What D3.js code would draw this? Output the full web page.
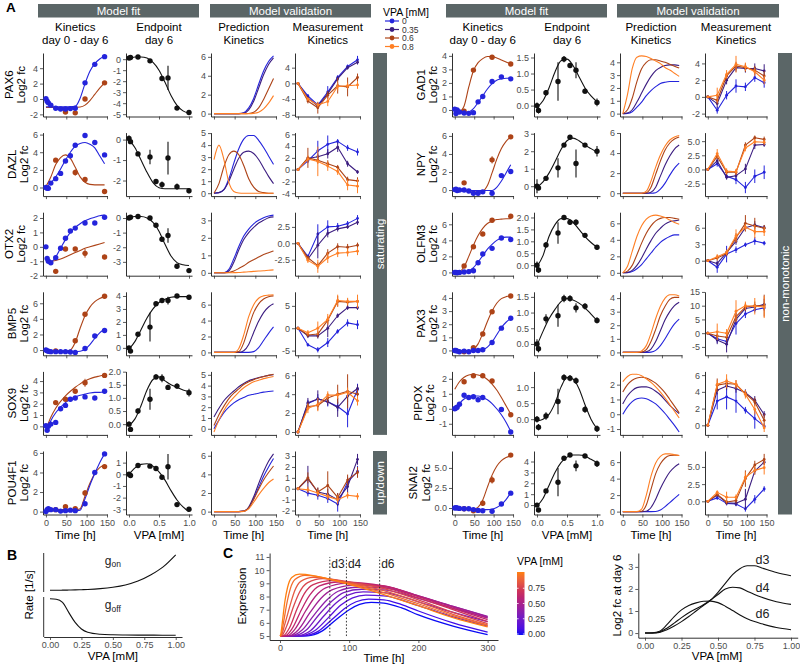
<!DOCTYPE html>
<html><head><meta charset="utf-8">
<script src="https://cdn.jsdelivr.net/npm/d3@7/dist/d3.min.js"></script>
<style>body{margin:0;background:#fff}</style>
</head><body>
<svg id="fig" width="800" height="666"></svg>
<script>
// ---------------- DATA ----------------
const genes = ["PAX6","DAZL","OTX2","BMP5","SOX9","POU4F1","GAD1","NPY","OLFM3","PAX3","PIPOX","SNAI2"];
const vpaLevels = ["0","0.35","0.6","0.8"];
const colTitles = [["Kinetics","day 0 - day 6"],["Endpoint","day 6"],["Prediction","Kinetics"],["Measurement","Kinetics"]];
const stripTitles = ["Model fit","Model validation","Model fit","Model validation"];
const groupLabels = ["saturating","up/down","non-monotonic"];
const kinTimes = [0,3,6,12,24,36,48,60,72,96,120,144];
const kinBrownTimes = [24,48,72,96,120,144];
const fitTimes = [0,12,24,36,48,60,72,84,96,108,120,132,144];
const doses = [0,0.025,0.15,0.35,0.45,0.55,0.65,0.8,1.0];
const doseGrid = [0,0.1,0.2,0.3,0.4,0.5,0.6,0.7,0.8,0.9,1.0];
const measTimes = [0,24,48,72,96,120,144];
const timeTicks = [0,50,100,150];
const doseTicks = [0,0.5,1];

const kinBlue = [
 [0.05,-0.3,-0.5,-0.8,-1.2,-1.3,-1.3,-1.25,-1.2,2.1,4.5,5.5],
 [0,-0.1,-0.1,0.5,1.0,1.6,3.0,3.6,4.8,5.9,5.1,3.7],
 [0,-0.8,-1.0,-1.1,-0.75,-0.1,0.6,1.1,1.3,1.65,1.65,2.05],
 [0,-0.1,-0.15,-0.2,-0.2,-0.2,-0.2,-0.25,-0.3,0.2,1.8,2.5],
 [0.05,-0.35,0.0,0.2,0.35,1.55,1.85,2.4,2.5,2.6,2.5,3.1],
 [0,0.2,0.3,0.2,0.2,0.05,0.1,0.15,0.1,0.8,4.0,5.9],
 [0.05,-0.27,0.0,-0.15,-0.22,-0.25,-0.2,0.6,1.0,2.1,2.45,2.3],
 [0.05,0.1,-0.05,0.0,0.0,-0.1,-0.35,-0.35,-0.2,-0.35,1.6,2.05],
 [0,0.0,-0.05,0.0,0.05,0.1,0.2,1.2,2.3,3.0,4.3,4.1],
 [0,0.0,-0.05,-0.1,-0.05,-0.1,0.0,0.0,0.05,0.6,1.7,2.45],
 [0,0.05,0.1,0.3,0.9,0.75,0.8,0.6,0.75,null,-0.05,-1.55],
 [0,0.05,0.0,-0.05,-0.1,-0.1,-0.2,-0.3,-0.35,-0.4,0.5,1.85]];
const kinBrown = [
 [null,-1.7,-1.8,0.0,null,2.1],
 [3.1,null,1.7,0.9,null,-0.45],
 [-1.7,-0.15,-0.15,-0.45,null,-0.7],
 [-0.1,null,1.2,4.6,null,6.9],
 [2.1,2.4,3.1,3.85,null,4.5],
 [0.2,0.5,0.3,1.9,null,4.6],
 [-0.1,2.95,null,3.9,null,3.4],
 [0.8,null,null,3.35,null,5.9],
 [0.8,3.2,4.8,6.5,null,7.0],
 [-0.1,0.2,1.25,2.95,null,4.15],
 [1.8,2.2,2.2,1.85,null,-0.4],
 [-0.1,-0.35,0.6,3.5,null,6.6]];
const kinBrownErr = [
 [0,0.1,0.1,0.15,0,0.2],[0.2,0,0.35,0.15,0,0.2],[0.1,0.1,0.1,0.3,0,0.15],[0,0,0.15,0.2,0,0.2],
 [0.1,0.1,0.15,0.35,0,0.1],[0.1,0.1,0.1,0.3,0,0.2],[0.1,0.15,0,0.1,0,0.1],[0.1,0,0,0.4,0,0.15],
 [0.1,0.15,0.15,0.15,0,0.15],[0.05,0.1,0.1,0.12,0,0.1],[0.1,0.1,0.1,0.1,0,0.1],[0.1,0.1,0.35,0.45,0,0.15]];
const fitBlue = [
 [-1.0,-1.0,-1.0,-1.0,-1.0,-1.0,-0.95,0.1,2.0,3.6,4.6,5.2,5.6],
 [0,0.5,1.2,2.1,3.1,4.0,4.7,5.0,5.1,4.9,4.5,3.6,2.7],
 [-1.0,-1.05,-0.7,-0.1,0.5,1.0,1.35,1.6,1.8,1.95,2.05,2.15,2.2],
 [-0.2,-0.2,-0.2,-0.2,-0.2,-0.2,-0.2,-0.15,0.1,0.7,1.5,2.2,2.7],
 [-0.5,0.5,1.2,1.7,2.1,2.4,2.6,2.75,2.85,2.95,3.0,3.0,3.05],
 [0.1,0.1,0.1,0.1,0.1,0.1,0.1,0.15,1.3,2.7,3.9,5.0,5.9],
 [-0.2,-0.2,-0.2,-0.15,0.1,0.55,1.05,1.55,1.95,2.2,2.3,2.35,2.35],
 [-0.05,-0.05,-0.05,-0.05,-0.05,-0.05,-0.05,-0.05,-0.05,0.3,1.0,1.9,2.8],
 [0,0,0.05,0.2,0.6,1.3,2.1,2.9,3.5,4.0,4.3,4.4,4.4],
 [0,0,0,0,0,0,0.05,0.25,0.65,1.2,1.75,2.15,2.45],
 [-0.05,0.35,0.65,0.8,0.85,0.85,0.75,0.6,0.35,0.0,-0.4,-0.9,-1.5],
 [-0.1,-0.1,-0.1,-0.1,-0.15,-0.15,-0.2,-0.2,-0.15,0.05,0.45,1.05,1.9]];
const fitBrown = [
 [-1.1,-1.1,-1.1,-1.1,-1.1,-1.1,-1.1,-1.05,-0.8,-0.2,0.6,1.4,2.1],
 [0.1,1.2,2.6,3.4,3.7,3.3,2.3,1.2,0.6,0.35,0.3,0.3,0.3],
 [-0.95,-1.0,-0.95,-0.85,-0.7,-0.55,-0.4,-0.25,-0.1,0.0,0.1,0.2,0.3],
 [-0.15,-0.15,-0.15,-0.15,-0.15,0.0,1.0,2.8,4.4,5.5,6.2,6.6,6.85],
 [-0.3,0.8,1.6,2.2,2.7,3.1,3.45,3.75,4.0,4.2,4.35,4.45,4.55],
 [0.2,0.2,0.2,0.2,0.2,0.2,0.2,0.3,1.6,2.9,3.9,4.5,4.75],
 [-0.1,-0.1,0.3,1.7,2.9,3.5,3.8,3.95,3.95,3.85,3.7,3.55,3.4],
 [-0.1,-0.1,-0.1,-0.1,-0.1,-0.1,-0.1,0.5,1.9,3.4,4.6,5.4,5.9],
 [0,0.1,0.7,2.0,3.4,4.6,5.5,6.1,6.4,6.6,6.65,6.7,6.7],
 [0,0,0,0,0.1,0.5,1.3,2.2,3.0,3.6,3.95,4.1,4.15],
 [1.3,1.8,2.1,2.25,2.3,2.25,2.15,1.95,1.65,1.25,0.75,0.2,-0.35],
 [-0.15,-0.15,-0.15,-0.15,-0.15,0.1,1.0,2.6,4.1,5.2,5.9,6.3,6.5]];
const endMean = [
 [0.1,0.15,0.2,-0.15,null,-1.75,-1.7,-4.45,-4.85],
 [0.05,-0.1,-0.7,-0.85,-2.05,-2.2,-0.9,-2.3,-2.5],
 [0.0,0.05,0.1,0.0,-0.5,-1.45,-1.2,-3.3,-3.6],
 [0.0,-0.25,1.05,1.6,3.4,3.65,3.65,4.0,3.9],
 [0.0,-0.2,0.5,0.95,1.8,1.75,1.4,1.45,1.2],
 [0.0,-0.1,0.75,0.7,0.5,-0.25,0.65,-2.6,-3.0],
 [0.0,-0.15,0.4,0.75,1.45,1.25,1.1,0.45,0.1],
 [0.0,-0.1,0.45,1.05,2.35,2.8,1.3,2.35,2.0],
 [0.0,-0.2,0.85,1.35,2.0,1.8,1.8,1.25,0.75],
 [0.0,-0.15,0.8,0.9,1.45,1.45,1.15,1.2,0.75],
 [0.0,-0.25,0.1,0.55,1.3,1.28,1.2,0.3,-0.3],
 [0.0,-0.45,1.3,2.1,4.3,4.6,3.6,4.5,3.8]];
const endErr = [
 [0.1,0.1,0.1,0.1,0,0.15,1.1,0.15,0.1],
 [0.15,0.1,0.1,0.35,0.1,0.15,0.8,0.15,0.12],
 [0.1,0.1,0.1,0.1,0.1,0.15,0.5,0.15,0.15],
 [0.15,0.1,0.1,1.1,0.1,0.1,0.3,0.1,0.15],
 [0.1,0.1,0.1,0.4,0.1,0.15,0.1,0.1,0.15],
 [0.15,0.15,0.1,0.1,0.1,0.15,1.1,0.15,0.1],
 [0.1,0.1,0.08,0.6,0.1,0.08,0.25,0.08,0.12],
 [0.4,0.1,0.1,0.55,0.1,0.1,0.8,0.1,0.3],
 [0.15,0.12,0.12,0.45,0.1,0.1,0.12,0.1,0.1],
 [0.15,0.12,0.15,0.35,0.12,0.1,0.15,0.1,0.1],
 [0.1,0.1,0.12,0.4,0.1,0.1,0.1,0.1,0.1],
 [0.15,0.15,0.1,1.3,0.1,0.1,0.5,0.1,0.3]];
const endFit = [
 [0.05,0.2,0.2,0.1,-0.3,-1.0,-2.1,-3.3,-4.2,-4.7,-4.9],
 [0,-0.4,-1.0,-1.6,-2.1,-2.35,-2.4,-2.4,-2.4,-2.4,-2.4],
 [0.05,0.1,0.1,0.0,-0.3,-0.9,-1.8,-2.6,-3.05,-3.2,-3.25],
 [-0.1,0.5,1.4,2.3,3.0,3.5,3.75,3.9,3.95,3.95,3.95],
 [-0.05,0.2,0.7,1.3,1.7,1.8,1.65,1.5,1.4,1.3,1.25],
 [0.0,0.55,0.85,0.9,0.7,0.2,-0.5,-1.4,-2.2,-2.8,-3.2],
 [-0.05,0.15,0.55,1.05,1.4,1.45,1.25,0.9,0.55,0.3,0.12],
 [-0.05,0.25,0.75,1.4,2.1,2.6,2.75,2.6,2.35,2.15,1.95],
 [-0.05,0.4,1.2,1.7,1.95,1.95,1.8,1.5,1.2,0.95,0.75],
 [-0.05,0.4,0.8,1.1,1.35,1.45,1.4,1.3,1.15,0.95,0.75],
 [-0.05,0.0,0.15,0.5,1.0,1.3,1.25,0.95,0.45,0.0,-0.3],
 [-0.1,0.6,1.8,3.0,3.9,4.4,4.6,4.6,4.5,4.2,3.9]];
const predBlue = [
 [0,0,0,0,0,0,0.1,0.6,1.6,3.1,4.5,5.5,6.1],
 [0,0.05,0.3,1.2,2.5,3.7,4.5,4.8,4.8,4.4,3.8,3.1,2.4],
 [0,0,0,0.2,0.8,1.5,2.1,2.5,2.8,3.0,3.15,3.25,3.3],
 [0,0,0,0,0,0,0,0,0.1,0.6,1.5,2.4,3.2],
 [0.0,0.8,1.5,2.0,2.4,2.7,2.9,3.1,3.2,3.3,3.4,3.45,3.5],
 [0,0,0,0,0,0,0.05,0.4,1.4,2.6,3.8,4.8,5.7],
 [0,0.02,0.15,0.5,0.9,1.4,1.8,2.1,2.35,2.45,2.5,2.5,2.5],
 [0,0,0,0,0,0,0,0.05,0.4,1.0,1.8,2.5,3.0],
 [0,0.02,0.15,0.5,1.0,1.7,2.4,3.1,3.7,4.1,4.4,4.6,4.6],
 [0,0,0,0,0,0,0.02,0.15,0.5,1.0,1.6,2.1,2.45],
 [0.0,0.5,0.85,1.05,1.1,1.05,0.9,0.7,0.4,0.05,-0.35,-0.75,-1.2],
 [0,0,0,0,0,0,0,0.02,0.2,0.6,1.1,1.6,2.1]];
const predPurple = [
 [0,0,0,0,0,0,0.05,0.4,1.3,2.7,4.1,5.2,5.9],
 [0,0.05,0.3,1.0,2.0,2.9,3.4,3.5,3.3,2.8,2.1,1.4,0.8],
 [0,0,0,0.1,0.6,1.3,1.9,2.3,2.6,2.85,3.0,3.15,3.2],
 [0,0,0,0,0,0,0.2,1.0,2.5,3.9,5.0,5.7,6.1],
 [1.1,1.9,2.6,3.1,3.5,3.9,4.2,4.45,4.6,4.75,4.85,4.95,5.0],
 [0,0,0,0,0,0,0.05,0.5,1.6,3.0,4.3,5.4,6.2],
 [0,0.05,0.3,0.9,1.6,2.3,2.9,3.35,3.6,3.75,3.8,3.8,3.75],
 [0,0,0,0,0,0,0.1,0.6,1.7,2.8,3.7,4.4,4.8],
 [0,0.05,0.3,0.9,1.8,2.9,3.9,4.8,5.4,5.9,6.2,6.3,6.4],
 [0,0,0,0,0,0.05,0.25,0.8,1.6,2.4,3.0,3.45,3.7],
 [0.7,1.25,1.6,1.8,1.85,1.85,1.75,1.55,1.3,0.95,0.6,0.3,0.05],
 [0,0,0,0,0,0.05,0.5,1.5,2.8,3.9,4.8,5.4,5.8]];
const predBrown = [
 [0,0,0,0,0,0,0,0.02,0.15,0.6,1.5,2.6,3.7],
 [0,0.8,2.2,3.2,3.5,3.2,2.3,1.2,0.5,0.15,0.05,0,0],
 [0,0,0,0.02,0.1,0.25,0.4,0.6,0.75,0.9,1.05,1.15,1.25],
 [0,0,0,0,0,0.1,1.2,3.2,5.0,6.1,6.7,7.0,7.1],
 [0.3,1.3,2.1,2.8,3.3,3.7,4.1,4.35,4.55,4.7,4.85,4.95,5.05],
 [0,0,0,0,0,0,0.05,0.4,1.3,2.4,3.4,4.2,4.9],
 [0,0.3,1.2,2.5,3.5,4.0,4.2,4.2,4.1,4.0,3.85,3.7,3.55],
 [0,0,0,0,0,0.05,0.6,1.9,3.2,4.3,5.0,5.4,5.6],
 [0,0.2,0.9,2.2,3.6,4.8,5.7,6.3,6.6,6.7,6.7,6.6,6.5],
 [0,0,0,0,0.02,0.2,0.8,1.7,2.7,3.4,3.9,4.05,4.05],
 [1.5,2.0,2.3,2.45,2.5,2.45,2.3,2.1,1.8,1.45,1.0,0.55,0.1],
 [0,0,0,0,0.05,0.8,2.7,4.6,5.8,6.5,6.8,6.85,6.8]];
const predOrange = [
 [0,0,0,0,0,0,0,0,0.03,0.15,0.5,1.1,1.9],
 [2.8,4.0,2.8,0.9,0.15,0.02,0,0,0,0,0,0,0],
 [0,0,0,0,0.01,0.02,0.04,0.06,0.08,0.1,0.12,0.15,0.17],
 [0,0,0,0,0,0.5,2.2,4.5,6.0,6.8,7.1,7.2,7.25],
 [-0.3,0.8,1.7,2.4,2.9,3.4,3.8,4.1,4.35,4.5,4.65,4.75,4.85],
 [0,0,0,0,0,0,0.03,0.3,1.0,1.8,2.5,3.1,3.5],
 [0,1.5,3.5,4.4,4.5,4.45,4.3,4.1,3.9,3.6,3.4,3.15,2.9],
 [0,0,0,0,0,0.2,1.2,2.6,3.8,4.7,5.3,5.6,5.75],
 [0,0.8,2.6,4.4,5.7,6.5,6.9,7.0,6.9,6.7,6.4,6.1,5.9],
 [0,0,0,0,0.1,0.5,1.4,2.5,3.4,4.0,4.25,4.25,4.15],
 [2.2,2.55,2.7,2.7,2.6,2.4,2.15,1.85,1.5,1.1,0.65,0.2,-0.25],
 [0,0,0,0,0.3,2.0,4.3,5.9,6.7,7.0,7.0,6.9,6.8]];
const measBlue = [
 [0,-3.2,-5.5,-2.2,1.5,4.3,6.0],[0,1.5,3.2,4.3,4.8,3.7,3.0],[0,-2.0,1.4,2.5,2.6,3.0,3.8],
 [0,-3.7,-4.8,-3.2,-0.7,1.2,0.8],[0,3.0,3.5,3.2,2.7,1.9,4.5],[0,-0.4,-0.6,-0.9,-1.4,0.6,1.6],
 [0,-1.6,0.2,1.3,1.2,2.3,1.7],[0,1.0,-1.2,-1.8,-3.2,-1.2,-0.5],[0,-1.2,1.2,2.0,2.9,3.6,3.2],
 [0,-2.0,-3.0,3.5,7.0,8.5,9.2],[0,2.9,3.4,2.9,1.8,0.8,-0.1],[0,0.5,-0.3,-0.4,-1.1,0.3,1.8]];
const measPurple = [
 [0,-3.7,-5.8,-2.6,1.2,4.0,5.4],[0,1.9,2.2,2.7,3.8,1.0,-0.4],[0,-2.4,-0.3,1.5,2.2,2.5,3.2],
 [0,-1.7,-1.7,0.0,2.8,4.6,4.6],[0,3.1,3.5,3.2,2.6,3.8,4.6],[0,0.9,-0.3,-0.5,-1.0,0.2,2.7],
 [0,-0.8,2.0,3.5,3.4,3.4,3.1],[0,1.5,-1.4,-1.1,0.1,4.3,4.4],[0,-0.5,1.5,3.5,6.0,6.5,6.0],
 [0,-2.5,-4.0,5.0,9.0,9.5,10.5],[0,4.2,4.7,4.4,3.9,3.0,1.3],[0,0.9,-0.2,-0.3,0.3,4.4,5.7]];
const measBrown = [
 [0,-4.5,-6.2,-3.0,-0.6,-0.9,1.5],[0,2.0,1.6,1.0,0.4,-1.7,-1.9],[0,-2.2,-3.4,-1.5,-0.5,-0.6,-0.3],
 [0,-1.5,-1.3,1.8,6.0,5.8,6.0],[0,2.7,2.8,3.6,4.0,4.3,4.0],[0,1.0,-0.3,0.3,-0.8,0.8,1.5],
 [0,-0.4,2.5,3.7,3.5,3.2,2.5],[0,2.3,-0.5,-0.5,4.3,5.6,5.3],[0,0.5,1.3,4.2,6.8,6.3,5.9],
 [0,-1.0,-1.5,6.0,9.5,10.0,10.0],[0,4.8,5.0,4.9,3.8,2.8,0.6],[0,1.0,-0.1,0.1,3.3,5.3,6.1]];
const measOrange = [
 [0,-4.0,-5.5,-4.6,-0.8,-0.6,-0.4],[0,1.8,1.4,0.6,-0.3,-2.6,-2.8],[0,-2.6,-3.5,-2.2,-1.5,-1.4,-1.2],
 [0,-1.0,0.0,2.0,6.2,6.0,6.0],[0,2.5,2.9,3.9,3.9,4.2,3.3],[0,-0.1,-0.4,-0.7,-1.0,-0.6,-0.7],
 [0,0.2,2.7,3.9,3.6,3.0,2.0],[0,2.8,-0.3,-0.4,3.8,4.9,4.8],[0,0.7,1.5,4.5,6.1,5.3,5.3],
 [0,0.5,0.0,8.0,10.0,9.8,9.5],[0,4.9,5.3,4.9,3.7,1.9,-0.3],[0,1.3,0.6,0.6,3.5,4.5,4.9]];
const errBlue = [
 [0,0.5,0.6,1.5,0.6,0.5,1.0],[0,0.4,1.7,1.5,0.4,0.5,0.6],[0,0.3,1.5,1.0,0.5,0.4,0.5],
 [0,0.4,0.6,1.0,0.5,0.8,1.0],[0,0.4,0.5,0.5,0.5,1.4,0.6],[0,0.3,0.4,0.4,0.7,0.5,0.5],
 [0,0.4,0.5,0.8,0.5,0.5,0.6],[0,0.5,0.5,0.8,1.0,1.2,1.2],[0,1.0,1.5,0.6,0.4,0.7,0.4],
 [0,1.5,2.0,4.0,1.5,1.0,1.0],[0,1.0,1.5,1.4,0.4,1.2,0.3],[0,0.3,0.3,0.3,0.4,0.6,0.4]];
const errPurple = [
 [0,0.5,0.5,0.6,0.6,0.5,0.6],[0,0.3,0.5,0.8,0.8,0.5,0.3],[0,0.3,2.0,0.6,0.4,0.3,0.4],
 [0,0.5,0.6,2.0,0.5,0.5,0.5],[0,0.5,0.9,0.4,1.0,0.6,0.4],[0,1.2,0.4,0.5,0.6,0.6,0.5],
 [0,0.5,0.5,0.5,0.5,0.6,0.8],[0,0.5,0.4,0.5,0.9,0.7,0.4],[0,0.5,0.6,0.6,0.6,0.7,0.5],
 [0,1.5,3.0,1.5,1.0,1.0,2.0],[0,0.5,0.5,0.5,0.4,0.5,0.4],[0,0.3,0.3,0.4,1.5,0.5,0.4]];
const errBrown = [
 [0,0.6,1.5,1.0,2.0,2.4,1.0],[0,1.7,0.6,0.6,0.4,0.5,0.6],[0,0.3,0.5,0.6,0.5,0.5,0.4],
 [0,0.5,0.8,0.8,1.2,0.8,0.8],[0,0.4,0.5,0.5,1.0,1.8,0.5],[0,0.5,0.4,1.3,0.4,0.5,0.5],
 [0,0.5,0.4,0.5,0.5,0.5,0.6],[0,0.5,0.5,0.5,0.5,0.4,0.5],[0,0.5,0.5,0.8,1.5,1.5,0.6],
 [0,1.0,1.5,1.5,1.5,1.5,4.0],[0,0.8,0.6,0.5,0.4,0.5,0.8],[0,0.3,0.4,0.4,1.2,0.6,0.8]];
const errOrange = [
 [0,0.5,0.6,1.2,1.0,0.8,1.0],[0,0.6,2.5,0.8,0.6,0.9,1.2],[0,0.4,1.0,0.8,0.6,0.6,0.6],
 [0,0.6,1.5,1.2,1.3,0.8,1.5],[0,0.5,0.7,0.4,0.4,0.5,0.5],[0,0.3,0.3,0.3,0.4,0.3,0.3],
 [0,0.9,0.5,1.0,0.5,0.5,0.5],[0,0.8,0.5,0.5,0.6,0.5,0.5],[0,0.5,0.5,1.2,0.6,1.2,0.8],
 [0,3.0,1.5,4.0,1.5,3.0,4.0],[0,0.5,0.8,0.5,0.5,0.6,0.5],[0,0.3,0.8,0.4,0.8,0.6,1.0]];
const ticksKin = [[-2,0,2,4,6],[0,2,4,6],[-2,-1,0,1,2],[0,2,4,6],[0,1,2,3,4],[0,2,4,6],
 [0,1,2,3,4],[0,2,4,6],[0,2,4,6],[0,1,2,3,4],[-1,0,1,2],[0,2.5,5]];
const ticksEnd = [[-5,-4,-3,-2,-1,0],[-2,-1,0],[-3,-2,-1,0],[0,1,2,3,4],[0,0.5,1,1.5,2],[-3,-2,-1,0,1],
 [0,0.5,1,1.5],[0,1,2,3],[0,0.5,1,1.5,2],[0,0.5,1,1.5],[-0.5,0,0.5,1],[-1,0,1,2,3,4,5]];
const ticksPred = [[0,2,4,6],[0,1,2,3,4,5],[0,1,2,3],[0,2,4,6],[0,1,2,3,4,5],[0,2,4,6],
 [0,1,2,3,4],[0,2,4,6],[0,2,4,6],[0,1,2,3,4],[-1,0,1,2],[0,2,4,6]];
const ticksMeas = [[-8,-4,0,4],[-4,-2,0,2,4,6],[-2.5,0,2.5],[-5,0,5],[0,2,4,6],[-2,-1,0,1,2,3],
 [-2,0,2,4],[-2.5,0,2.5,5],[0,3,6],[-5,0,5,10,15],[0,2,4,6],[0,2.5,5,7.5]];

// Panel B
const rateVPA = [0,0.05,0.1,0.15,0.2,0.25,0.3,0.4,0.5,0.6,0.7,0.8,0.9,1.0];
const gOn  = [0,0,0.002,0.005,0.01,0.015,0.022,0.045,0.085,0.15,0.26,0.43,0.66,1.0];
const gOff = [1.0,0.99,0.9,0.62,0.35,0.17,0.08,0.025,0.01,0.005,0.002,0.001,0,0];
const rateLabelVPA = [0.5,0.5];
const rateLabelY = [0.72,0.72];
const rateTicks = [0,0.25,0.5,0.75,1];

// Panel C
const cVPA = [0,0.077,0.154,0.231,0.308,0.385,0.462,0.538,0.615,0.692,0.769,0.846,0.923,1.0];
const cCurves = [
 [[0,5],[40,5.02],[60,5.35],[80,6.2],[100,7.0],[115,7.4],[132,7.55],[150,7.5],[175,7.15],[200,6.6],[250,5.75],[300,5.1]],
 [[0,5],[35,5.02],[55,5.35],[75,6.25],[95,7.15],[110,7.6],[128,7.8],[150,7.75],[175,7.4],[200,6.9],[250,6.0],[300,5.3]],
 [[0,5],[30,5.02],[50,5.4],[70,6.4],[88,7.35],[105,7.9],[124,8.1],[150,8.05],[200,7.3],[250,6.45],[300,5.75]],
 [[0,5],[25,5.02],[44,5.4],[63,6.5],[81,7.5],[98,8.1],[120,8.35],[150,8.3],[200,7.6],[250,6.8],[300,6.1]],
 [[0,5],[20,5.02],[38,5.45],[56,6.6],[74,7.6],[92,8.3],[118,8.55],[150,8.5],[200,7.85],[250,7.1],[300,6.4]],
 [[0,5],[17,5.02],[32,5.45],[50,6.65],[67,7.7],[84,8.4],[112,8.7],[150,8.65],[200,8.0],[250,7.25],[300,6.5]],
 [[0,5],[14,5.03],[27,5.5],[43,6.75],[59,7.85],[75,8.5],[105,8.85],[150,8.75],[200,8.05],[250,7.25],[300,6.45]],
 [[0,5],[11,5.03],[22,5.55],[37,6.9],[51,8.0],[66,8.65],[95,9.0],[150,8.8],[200,8.05],[250,7.2],[300,6.35]],
 [[0,5],[8,5.03],[18,5.6],[31,7.0],[43,8.1],[57,8.8],[85,9.1],[150,8.8],[200,8.0],[250,7.1],[300,6.25]],
 [[0,5],[5,5.03],[14,5.65],[25,7.1],[35,8.2],[48,8.9],[75,9.2],[110,9.0],[150,8.7],[200,7.9],[250,7.0],[300,6.1]],
 [[0,5],[3,5.05],[10,5.8],[20,7.3],[28,8.3],[40,9.05],[62,9.35],[100,9.1],[150,8.6],[200,7.75],[250,6.8],[300,5.95]],
 [[0,5],[2,5.07],[7,5.9],[15,7.4],[21,8.4],[30,9.15],[48,9.45],[90,9.15],[150,8.45],[200,7.6],[250,6.65],[300,5.85]],
 [[0,5],[1.5,5.08],[5,6.0],[10,7.5],[15,8.6],[22,9.3],[36,9.6],[90,9.1],[150,8.3],[200,7.45],[250,6.55],[300,5.8]],
 [[0,5],[1,5.1],[3.5,6.1],[7,7.6],[11,8.7],[17,9.45],[28,9.7],[90,9.05],[150,8.15],[200,7.3],[250,6.4],[300,5.7]]];
const dayTimes = [72,96,144];
const dayNames = ["d3","d4","d6"];
const dayLineRange = [5,11];
const dayLabelY = 10.45;
const cTimeTicks = [0,100,200,300];
const cExprTicks = [5,6,7,8,9,10,11];
const cBarTicks = [0,0.25,0.5,0.75];
const cGradient = ["#0a0af5","#7d1fb8","#c8285e","#ff7f10"];

// Right bottom panel
const fcVPA = [0,0.05,0.1,0.15,0.2,0.25,0.3,0.35,0.4,0.45,0.5,0.55,0.6,0.65,0.7,0.75,0.8,0.9,1.0];
const fcD3 = [0,0,0.03,0.15,0.32,0.52,0.75,1.0,1.25,1.5,1.85,2.25,2.65,2.92,3.05,3.05,2.95,2.75,2.6];
const fcD4 = [0,0,0.05,0.22,0.45,0.7,0.92,1.1,1.28,1.5,1.75,2.0,2.08,2.05,1.9,1.75,1.62,1.42,1.3];
const fcD6 = [0,0.01,0.08,0.38,0.75,1.05,1.25,1.37,1.44,1.45,1.38,1.22,1.02,0.82,0.65,0.52,0.42,0.25,0.15];
const fcLabelX = [0.805,0.805,0.805];
const fcLabelY = [3.3,2.05,0.87];
const fcDomain = [-0.21,3.63];
const fcYTicks = [0,1,2,3];

// ---------------- STYLE / LAYOUT ----------------
const FONT = '"Liberation Sans", Arial, Helvetica, sans-serif';
const COL = {blue:"#2424dc", purple:"#3c1d80", brown:"#ad4317", orange:"#ff7f24"};
const serCol = [COL.blue, COL.purple, COL.brown, COL.orange];
const STRIP = "#5b6667";
const colsLeft = [[43,64.5],[126,66],[211,65.5],[295,65.5]];
const colsRight = [[452,61.5],[534,66],[620,62],[705,62]];
const PH = 63.5;
const rowTop = r => 53 + r*79.6;

const svg = d3.select("#fig").attr("font-family", FONT);

function expand(vals, m = 0.05){
  const v = vals.filter(d => d != null && isFinite(d));
  const lo = d3.min(v), hi = d3.max(v), p = (hi - lo) * m || 0.5;
  return [lo - p, hi + p];
}
function numFmt(ticks){
  const dec = ticks.some(t => Math.abs(t - Math.round(t)) > 1e-9) ? 1 : 0;
  return t => (t < -1e-9 ? "-" : "") + Math.abs(t).toFixed(dec);
}
function styleAxis(sel, fs = 9){
  sel.attr("font-family", FONT);
  sel.select(".domain").attr("stroke", "#1a1a1a").attr("stroke-width", 0.9);
  sel.selectAll(".tick line").attr("stroke", "#333").attr("stroke-width", 0.8);
  sel.selectAll(".tick text").attr("fill", "#4d4d4d").attr("font-size", fs);
}
function makePanel(px, pw, py, ph, xDom, yDom, yTicks, xTicks, showX, xFmt){
  const xs = d3.scaleLinear().domain(xDom).range([px, px + pw]);
  const ys = d3.scaleLinear().domain(yDom).range([py + ph, py]);
  const g = svg.append("g");
  const yt = yTicks.filter(t => t >= yDom[0] && t <= yDom[1]);
  const ya = g.append("g").attr("transform", `translate(${px},0)`)
    .call(d3.axisLeft(ys).tickValues(yt).tickSize(3).tickSizeOuter(0).tickPadding(2).tickFormat(numFmt(yTicks)));
  styleAxis(ya);
  const xa = g.append("g").attr("transform", `translate(0,${py + ph})`)
    .call(d3.axisBottom(xs).tickValues(xTicks).tickSize(3).tickSizeOuter(0).tickPadding(2).tickFormat(showX ? xFmt : () => ""));
  styleAxis(xa);
  return {g, xs, ys, ya};
}
function pairs(xv, yv){ return xv.map((x, i) => [x, yv[i]]).filter(d => d[1] != null); }
function drawLine(p, xv, yv, color, curve, w){
  p.g.append("path").datum(pairs(xv, yv))
    .attr("d", d3.line().x(d => p.xs(d[0])).y(d => p.ys(d[1])).curve(curve))
    .attr("fill", "none").attr("stroke", color).attr("stroke-width", w).attr("stroke-linejoin", "round");
}
function dots(p, xv, yv, color, r){
  p.g.append("g").selectAll("circle").data(pairs(xv, yv)).join("circle")
    .attr("cx", d => p.xs(d[0])).attr("cy", d => p.ys(d[1])).attr("r", r).attr("fill", color);
}
function errBars(p, xv, yv, ev, color, w){
  const d = xv.map((x, i) => [x, yv[i], ev[i]]).filter(q => q[1] != null && q[2] > 0);
  p.g.append("g").selectAll("line").data(d).join("line")
    .attr("x1", q => p.xs(q[0])).attr("x2", q => p.xs(q[0]))
    .attr("y1", q => p.ys(q[1] - q[2])).attr("y2", q => p.ys(q[1] + q[2]))
    .attr("stroke", color).attr("stroke-width", w);
}
function withErr(v, e){ return v.flatMap((x, i) => x == null ? [] : [x - e[i], x + e[i]]); }
function label(x, y, txt, fs, opts = {}){
  const t = svg.append("text").attr("x", x).attr("y", y).text(txt).attr("font-size", fs)
    .attr("fill", opts.fill || "#000").attr("text-anchor", opts.anchor || "middle");
  if (opts.weight) t.attr("font-weight", opts.weight);
  return t;
}
function vlabel(x, y, txt, fs, opts = {}){
  const t = svg.append("text").attr("transform", `translate(${x},${y}) rotate(-90)`).text(txt)
    .attr("font-size", fs).attr("fill", opts.fill || "#000").attr("text-anchor", "middle");
  if (opts.central) t.attr("dominant-baseline", "central");
  return t;
}

// ---------------- HEADERS ----------------
label(6, 12, "A", 13.5, {anchor: "start", weight: "bold"});
const stripX = [[38,199],[210,371],[446,607],[617,779]];
stripX.forEach((s, i) => {
  svg.append("rect").attr("x", s[0]).attr("y", 4).attr("width", s[1] - s[0]).attr("height", 13.5).attr("fill", STRIP);
  label((s[0] + s[1]) / 2, 14.6, stripTitles[i], 11.5, {fill: "#fff"});
});
[colsLeft, colsRight].forEach(cols => cols.forEach((c, i) => {
  const cx = c[0] + c[1] / 2;
  label(cx, 30.5, colTitles[i][0], 11.5);
  label(cx, 44, colTitles[i][1], 11.5);
}));
// legend
label(383, 15.5, "VPA [mM]", 10.5, {anchor: "start"});
const legY = [21, 29.5, 38, 46.5];
vpaLevels.forEach((lv, i) => {
  svg.append("line").attr("x1", 385).attr("x2", 399).attr("y1", legY[i]).attr("y2", legY[i]).attr("stroke", serCol[i]).attr("stroke-width", 1.2);
  svg.append("circle").attr("cx", 392).attr("cy", legY[i]).attr("r", 2.4).attr("fill", serCol[i]);
  label(402, legY[i] + 3, lv, 8.5, {anchor: "start", fill: "#333"});
});
// group strips
function vstrip(x, y0, y1, txt){
  svg.append("rect").attr("x", x).attr("y", y0).attr("width", 14).attr("height", y1 - y0).attr("fill", STRIP);
  vlabel(x + 7, (y0 + y1) / 2, txt, 11.5, {fill: "#fff", central: true});
}
vstrip(373, rowTop(0), rowTop(4) + PH, groupLabels[0]);
vstrip(373, rowTop(5), rowTop(5) + PH, groupLabels[1]);
vstrip(778, rowTop(0), rowTop(5) + PH, groupLabels[2]);

// ---------------- GENE PANELS ----------------
const tDom = expand(measTimes), dDom = expand(doses);
genes.forEach((gene, gi) => {
  const cols = gi < 6 ? colsLeft : colsRight;
  const r = gi % 6, py = rowTop(r), showX = r === 5;
  const tf = d3.format("d"), df = d3.format(".1f");
  // kinetics fit
  const kb = kinBrown[gi], ke = kinBrownErr[gi];
  const v1 = kinBlue[gi].concat(fitBlue[gi], fitBrown[gi], withErr(kb, ke));
  const p1 = makePanel(cols[0][0], cols[0][1], py, PH, tDom, expand(v1), ticksKin[gi], timeTicks, showX, tf);
  drawLine(p1, fitTimes, fitBrown[gi], COL.brown, d3.curveMonotoneX, 1.1);
  drawLine(p1, fitTimes, fitBlue[gi], COL.blue, d3.curveMonotoneX, 1.1);
  errBars(p1, kinBrownTimes, kb, ke, COL.brown, 1);
  dots(p1, kinBrownTimes, kb, COL.brown, 2.7);
  dots(p1, kinTimes, kinBlue[gi], COL.blue, 2.7);
  const tw = d3.max(p1.ya.selectAll("text").nodes(), n => n.getComputedTextLength()) || 0;
  const bx = cols[0][0] - 5 - tw - 4.5;
  vlabel(bx, py + PH / 2, "Log2 fc", 11.5);
  vlabel(bx - 12.5, py + PH / 2, gene, 11.5);
  // endpoint
  const v2 = withErr(endMean[gi], endErr[gi]).concat(endFit[gi]);
  const p2 = makePanel(cols[1][0], cols[1][1], py, PH, dDom, expand(v2), ticksEnd[gi], doseTicks, showX, df);
  drawLine(p2, doseGrid, endFit[gi], "#111", d3.curveMonotoneX, 1.1);
  errBars(p2, doses, endMean[gi], endErr[gi], "#111", 1.1);
  dots(p2, doses, endMean[gi], "#111", 2.7);
  // prediction
  const preds = [predBlue[gi], predPurple[gi], predBrown[gi], predOrange[gi]];
  const p3 = makePanel(cols[2][0], cols[2][1], py, PH, tDom, expand(preds.flat()), ticksPred[gi], timeTicks, showX, tf);
  preds.forEach((s, i) => drawLine(p3, fitTimes, s, serCol[i], d3.curveMonotoneX, 1.1));
  // measurement
  const meas = [measBlue[gi], measPurple[gi], measBrown[gi], measOrange[gi]];
  const errs = [errBlue[gi], errPurple[gi], errBrown[gi], errOrange[gi]];
  const v4 = meas.flatMap((m, i) => withErr(m, errs[i]));
  const p4 = makePanel(cols[3][0], cols[3][1], py, PH, tDom, expand(v4), ticksMeas[gi], timeTicks, showX, tf);
  meas.forEach((m, i) => {
    errBars(p4, measTimes, m, errs[i], serCol[i], 1);
    drawLine(p4, measTimes, m, serCol[i], d3.curveLinear, 1.1);
    dots(p4, measTimes, m, serCol[i], 1.4);
  });
  if (showX) {
    const by = py + PH + 24;
    ["Time [h]", "VPA [mM]", "Time [h]", "Time [h]"].forEach((t, i) => label(cols[i][0] + cols[i][1] / 2, by, t, 11.5));
  }
});

// ---------------- PANEL B ----------------
label(7, 560, "B", 14, {anchor: "start", weight: "bold"});
{
  const xs = d3.scaleLinear().domain(expand(rateVPA)).range([43.7, 182]);
  const facets = [[553, 592, gOn, "on"], [597, 637, gOff, "off"]];
  facets.forEach((f, k) => {
    const ys = d3.scaleLinear().domain(expand(f[2])).range([f[1], f[0]]);
    svg.append("line").attr("x1", 43.7).attr("x2", 43.7).attr("y1", f[0]).attr("y2", f[1]).attr("stroke", "#1a1a1a").attr("stroke-width", 0.9);
    svg.append("path").datum(rateVPA.map((x, i) => [x, f[2][i]]))
      .attr("d", d3.line().x(d => xs(d[0])).y(d => ys(d[1])).curve(d3.curveMonotoneX))
      .attr("fill", "none").attr("stroke", "#111").attr("stroke-width", 1.1);
    const t = svg.append("text").attr("x", xs(rateLabelVPA[k])).attr("y", ys(rateLabelY[k]))
      .attr("text-anchor", "middle").attr("font-size", 12).attr("fill", "#222");
    t.append("tspan").text("g");
    t.append("tspan").text(f[3]).attr("font-size", 8.5).attr("dy", 2.5);
  });
  const xa = svg.append("g").attr("transform", "translate(0,637)")
    .call(d3.axisBottom(xs).tickValues(rateTicks).tickSize(3).tickSizeOuter(0).tickPadding(2).tickFormat(d3.format(".2f")));
  styleAxis(xa);
  label(112.8, 660, "VPA [mM]", 11.5);
  vlabel(33, 595, "Rate [1/s]", 11.5);
}

// ---------------- PANEL C ----------------
label(223, 558, "C", 14, {anchor: "start", weight: "bold"});
{
  const cColor = d3.piecewise(d3.interpolateLab, cGradient);
  const xs = d3.scaleLinear().domain(expand([0, 300])).range([269.6, 498]);
  const ys = d3.scaleLinear().domain(expand(dayLineRange)).range([640, 553]);
  const ya = svg.append("g").attr("transform", "translate(269.6,0)")
    .call(d3.axisLeft(ys).tickValues(cExprTicks).tickSize(3).tickSizeOuter(0).tickPadding(2).tickFormat(d3.format("d")));
  styleAxis(ya);
  const xa = svg.append("g").attr("transform", "translate(0,640)")
    .call(d3.axisBottom(xs).tickValues(cTimeTicks).tickSize(3).tickSizeOuter(0).tickPadding(2).tickFormat(d3.format("d")));
  styleAxis(xa);
  cCurves.forEach((c, i) => {
    svg.append("path").datum(c)
      .attr("d", d3.line().x(d => xs(d[0])).y(d => ys(d[1])).curve(d3.curveMonotoneX))
      .attr("fill", "none").attr("stroke", cColor(cVPA[i])).attr("stroke-width", 1.3);
  });
  dayTimes.forEach((t, i) => {
    svg.append("line").attr("x1", xs(t)).attr("x2", xs(t)).attr("y1", ys(dayLineRange[0])).attr("y2", ys(dayLineRange[1]))
      .attr("stroke", "#222").attr("stroke-width", 0.9).attr("stroke-dasharray", "1.6,1.8");
    svg.append("text").attr("x", xs(t) + 1.5).attr("y", ys(dayLabelY)).attr("dominant-baseline", "central")
      .attr("font-size", 12).attr("fill", "#222").text(dayNames[i]);
  });
  label(384, 662, "Time [h]", 11.5);
  vlabel(246, 596, "Expression", 11.5);
  // colorbar
  const defs = svg.append("defs");
  const grad = defs.append("linearGradient").attr("id", "vpaGrad").attr("x1", 0).attr("y1", 1).attr("x2", 0).attr("y2", 0);
  d3.range(0, 1.0001, 0.1).forEach(o => grad.append("stop").attr("offset", o).attr("stop-color", cColor(o)));
  const by = d3.scaleLinear().domain([0, 1]).range([634, 573]);
  svg.append("rect").attr("x", 517).attr("y", 572).attr("width", 7.5).attr("height", 63).attr("fill", "url(#vpaGrad)");
  cBarTicks.forEach(v => {
    svg.append("line").attr("x1", 517).attr("x2", 518.6).attr("y1", by(v)).attr("y2", by(v)).attr("stroke", "#fff").attr("stroke-width", 0.8);
    svg.append("line").attr("x1", 522.9).attr("x2", 524.5).attr("y1", by(v)).attr("y2", by(v)).attr("stroke", "#fff").attr("stroke-width", 0.8);
    label(528, by(v) + 3, d3.format(".2f")(v), 8.8, {anchor: "start", fill: "#333"});
  });
  label(517, 565, "VPA [mM]", 10.5, {anchor: "start"});
}

// ---------------- RIGHT BOTTOM PANEL ----------------
{
  const xs = d3.scaleLinear().domain(expand([0, 1], 0.046)).range([638.3, 797.7]);
  const ys = d3.scaleLinear().domain(fcDomain).range([637.7, 553]);
  const ya = svg.append("g").attr("transform", "translate(638.3,0)")
    .call(d3.axisLeft(ys).tickValues(fcYTicks).tickSize(3).tickSizeOuter(0).tickPadding(2).tickFormat(d3.format("d")));
  styleAxis(ya);
  const xa = svg.append("g").attr("transform", "translate(0,637.7)")
    .call(d3.axisBottom(xs).tickValues(rateTicks).tickSize(3).tickSizeOuter(0).tickPadding(2).tickFormat(d3.format(".2f")));
  styleAxis(xa);
  [fcD3, fcD4, fcD6].forEach((s, i) => {
    svg.append("path").datum(fcVPA.map((x, j) => [x, s[j]]))
      .attr("d", d3.line().x(d => xs(d[0])).y(d => ys(d[1])).curve(d3.curveMonotoneX))
      .attr("fill", "none").attr("stroke", "#111").attr("stroke-width", 1.1);
    svg.append("text").attr("x", xs(fcLabelX[i])).attr("y", ys(fcLabelY[i])).attr("dominant-baseline", "central")
      .attr("text-anchor", "middle").attr("font-size", 12.5).attr("fill", "#222").text(dayNames[i]);
  });
  label(717, 660, "VPA [mM]", 11.5);
  vlabel(621, 595.5, "Log2 fc at day 6", 11.5);
}
</script>
</body></html>
